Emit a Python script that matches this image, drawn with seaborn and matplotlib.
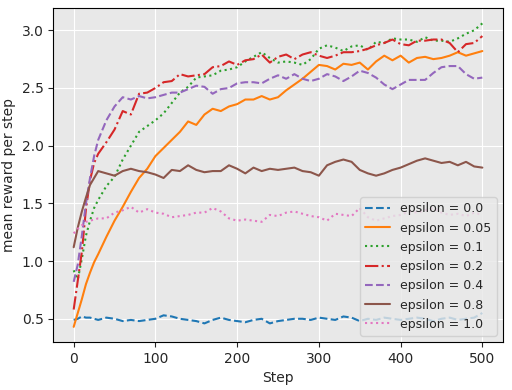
import numpy as np
import pandas as pd
import seaborn as sns
import matplotlib
matplotlib.use("Agg")
import matplotlib.pyplot as plt

steps = [0, 5, 10, 15, 20, 25, 30] + list(range(40, 501, 10))

eps_00 = [0.49, 0.50, 0.52, 0.51, 0.51, 0.50, 0.49, 0.51, 0.50, 0.48, 0.49, 0.48, 0.49, 0.50,
          0.53, 0.52, 0.50, 0.49, 0.48, 0.46, 0.49, 0.51, 0.49, 0.48, 0.47, 0.49, 0.50, 0.46,
          0.48, 0.49, 0.50, 0.50, 0.49, 0.51, 0.50, 0.49, 0.52, 0.51, 0.48, 0.50, 0.49, 0.51,
          0.50, 0.49, 0.50, 0.51, 0.50, 0.48, 0.50, 0.51, 0.49, 0.50, 0.51, 0.55]
eps_005 = [0.43, 0.55, 0.67, 0.80, 0.90, 0.99, 1.06, 1.21, 1.35, 1.47, 1.60, 1.72, 1.80, 1.91,
           1.98, 2.05, 2.12, 2.21, 2.18, 2.27, 2.32, 2.30, 2.34, 2.36, 2.40, 2.40, 2.43, 2.40,
           2.42, 2.48, 2.53, 2.58, 2.64, 2.70, 2.69, 2.66, 2.71, 2.70, 2.72, 2.66, 2.73, 2.78,
           2.74, 2.78, 2.72, 2.76, 2.77, 2.75, 2.76, 2.78, 2.81, 2.78, 2.80, 2.82]
eps_01 = [0.92, 0.84, 1.02, 1.22, 1.35, 1.46, 1.53, 1.65, 1.73, 1.88, 2.00, 2.12, 2.17, 2.22,
          2.28, 2.37, 2.46, 2.51, 2.59, 2.60, 2.61, 2.65, 2.66, 2.68, 2.73, 2.77, 2.81, 2.76,
          2.72, 2.73, 2.72, 2.70, 2.75, 2.84, 2.87, 2.85, 2.82, 2.86, 2.87, 2.83, 2.90, 2.89,
          2.93, 2.92, 2.92, 2.90, 2.94, 2.91, 2.91, 2.90, 2.93, 2.97, 3.00, 3.06]
eps_02 = [0.58, 0.83, 1.08, 1.45, 1.70, 1.85, 1.93, 2.03, 2.14, 2.30, 2.27, 2.45, 2.46, 2.50,
          2.55, 2.56, 2.62, 2.60, 2.61, 2.62, 2.68, 2.69, 2.73, 2.70, 2.74, 2.75, 2.79, 2.72,
          2.77, 2.79, 2.75, 2.79, 2.81, 2.78, 2.76, 2.78, 2.81, 2.81, 2.82, 2.84, 2.87, 2.89,
          2.92, 2.88, 2.87, 2.91, 2.91, 2.92, 2.92, 2.89, 2.81, 2.88, 2.89, 2.95]
eps_04 = [0.82, 0.97, 1.22, 1.50, 1.72, 1.91, 2.05, 2.22, 2.34, 2.42, 2.40, 2.43, 2.41, 2.42,
          2.44, 2.46, 2.46, 2.49, 2.52, 2.51, 2.45, 2.49, 2.50, 2.54, 2.55, 2.55, 2.54, 2.58,
          2.61, 2.58, 2.62, 2.58, 2.56, 2.58, 2.62, 2.60, 2.56, 2.60, 2.65, 2.63, 2.59, 2.53,
          2.49, 2.53, 2.57, 2.57, 2.57, 2.63, 2.68, 2.69, 2.69, 2.62, 2.58, 2.59]
eps_08 = [1.12, 1.29, 1.43, 1.55, 1.66, 1.72, 1.78, 1.76, 1.74, 1.78, 1.80, 1.78, 1.77, 1.75,
          1.72, 1.79, 1.78, 1.83, 1.79, 1.77, 1.78, 1.78, 1.83, 1.80, 1.76, 1.81, 1.78, 1.80,
          1.79, 1.80, 1.81, 1.78, 1.77, 1.74, 1.83, 1.86, 1.88, 1.86, 1.79, 1.76, 1.74, 1.76,
          1.79, 1.81, 1.84, 1.87, 1.89, 1.87, 1.85, 1.86, 1.83, 1.86, 1.82, 1.81]
eps_10 = [1.24, 1.28, 1.31, 1.34, 1.35, 1.36, 1.37, 1.37, 1.42, 1.44, 1.47, 1.42, 1.45, 1.42,
          1.41, 1.38, 1.39, 1.40, 1.42, 1.42, 1.46, 1.43, 1.37, 1.35, 1.36, 1.35, 1.34, 1.40,
          1.39, 1.42, 1.43, 1.41, 1.39, 1.38, 1.35, 1.41, 1.40, 1.39, 1.46, 1.38, 1.35, 1.37,
          1.39, 1.40, 1.43, 1.42, 1.44, 1.46, 1.42, 1.40, 1.41, 1.39, 1.42, 1.40]

epsilons = ["0.0", "0.05", "0.1", "0.2", "0.4", "0.8", "1.0"]
series = [eps_00, eps_005, eps_01, eps_02, eps_04, eps_08, eps_10]
linestyles = ["--", "-", ":", "-.", "--", "-", ":"]

sns.set_style("darkgrid", {"axes.facecolor": "#e8e8e8", "axes.edgecolor": "black",
                           "xtick.bottom": True, "ytick.left": True,
                           "grid.color": "white"})
colors = sns.color_palette("tab10")

fig, ax = plt.subplots(figsize=(5.12, 3.9), dpi=100)

for i, (eps, vals) in enumerate(zip(epsilons, series)):
    df = pd.DataFrame({"step": steps, "reward": vals})
    sns.lineplot(data=df, x="step", y="reward", ax=ax, color=colors[i],
                 linestyle=linestyles[i], linewidth=1.5, label=f"epsilon = {eps}")

for s in ax.spines.values():
    s.set_visible(True)
    s.set_color("black")
    s.set_linewidth(0.8)

ax.set_xlabel("Step")
ax.set_ylabel("mean reward per step")
ax.set_xticks([0, 100, 200, 300, 400, 500])
ax.legend(loc="lower right", fontsize=9)

plt.subplots_adjust(left=0.104, right=0.982, top=0.979, bottom=0.123)
plt.savefig("out.png")
